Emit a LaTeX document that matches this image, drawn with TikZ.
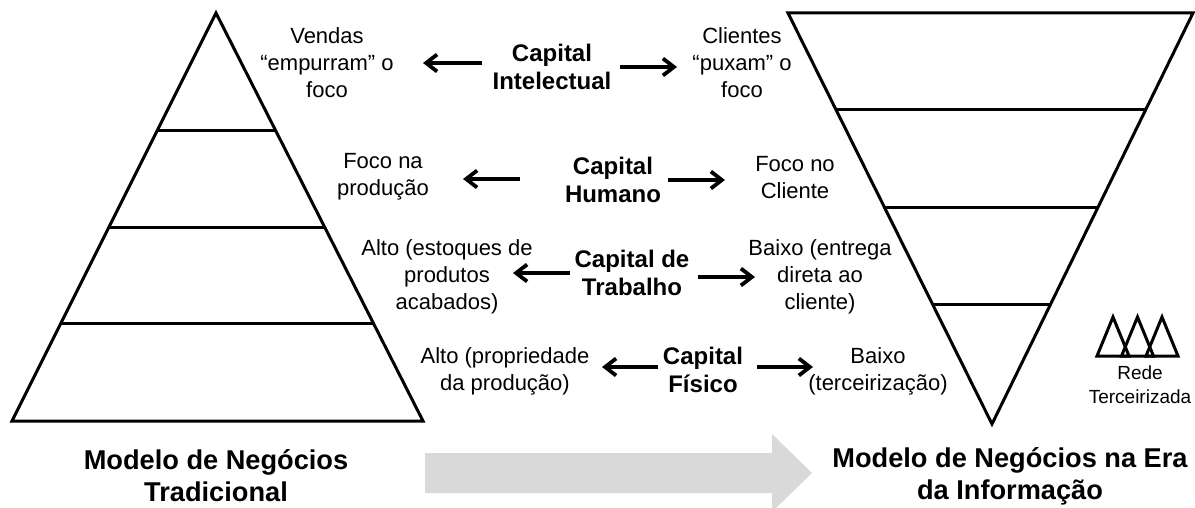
\documentclass[tikz,border=0pt]{standalone}
\usepackage{fontspec}
\setmainfont{Liberation Sans}
\usetikzlibrary{arrows.meta,calc,positioning}
\definecolor{arrowgray}{HTML}{D9D9D9}

\tikzset{
	txt/.style={align=center,inner sep=0pt,font=\fontsize{11}{13.5}\selectfont},
	capbox/.style={align=center,inner sep=0pt,font=\fontsize{12}{14}\selectfont\bfseries},
	ttl/.style={align=center,inner sep=0pt,font=\fontsize{13.6}{16}\selectfont\bfseries},
	small/.style={align=center,inner sep=0pt,font=\fontsize{9.5}{12}\selectfont},
	lvl/.style={line width=1.5pt},
	arr/.style={line width=1.9pt,-{Straight Barb[length=5.5pt,width=8.5pt]}},
}

\begin{document}
\begin{tikzpicture}[x=0.5pt,y=-0.5pt]
		\useasboundingbox (0,0) rectangle (1195,508);
		\clip (0,0) rectangle (1195,508);
		% grey arrow
		\fill[arrowgray] (425,453) -- (772,453) -- (772,434) -- (812,473) -- (772,512) -- (772,493) -- (425,493) -- cycle;
		% traditional pyramid
		\coordinate (lt) at (216,13);
		\coordinate (lbl) at (12,421);
		\coordinate (lbr) at (423,421);
		\draw[lvl] (lt) -- (lbl) -- (lbr) -- cycle;
		\foreach \f in {0.287,0.525,0.762}
			\draw[lvl] ($(lt)!\f!(lbl)$) -- ($(lt)!\f!(lbr)$);
		% inverted pyramid
		\coordinate (rtl) at (788,13);
		\coordinate (rtr) at (1193,13);
		\coordinate (rb) at (992,424);
		\draw[lvl] (rtl) -- (rtr) -- (rb) -- cycle;
		\foreach \f in {0.236,0.474,0.71}
			\draw[lvl] ($(rtl)!\f!(rb)$) -- ($(rtr)!\f!(rb)$);
		% network icon
		\foreach \i in {0,1,2}
			\draw[lvl] (1097+24.5*\i,356) -- (1113+24.5*\i,317) -- (1129+24.5*\i,356) -- cycle;
		\node[small] (rede) at (1140,385) {Rede\\Terceirizada};
		%
		\node[txt] (vendas) at (327,63) {Vendas\\“empurram” o\\foco};
		\node[capbox] (capI) at (552,67) {Capital\\Intelectual};
		\node[txt] (clientes) at (742,63) {Clientes\\“puxam” o\\foco};
		\node[txt] (focoP) at (383,177) {Foco na\\produção};
		\node[capbox] (capH) at (613,180) {Capital\\Humano};
		\node[txt] (focoC) at (795,178) {Foco no\\Cliente};
		\node[txt] (altoE) at (447,277) {Alto (estoques de\\produtos\\acabados)};
		\node[capbox] (capT) at (632,273) {Capital de\\Trabalho};
		\node[txt] (baixoE) at (820,277) {Baixo (entrega\\direta ao\\cliente)};
		\node[txt] (altoP) at (505,371) {Alto (propriedade\\da produção)};
		\node[capbox] (capF) at (703,370) {Capital\\Físico};
		\node[txt] (baixoT) at (878,371) {Baixo\\(terceirização)};
		%
		\node[ttl] (trad) at (216,476) {Modelo de Negócios\\Tradicional};
		\node[ttl] (info) at (1010,476) {Modelo de Negócios na Era\\da Informação};
		% arrow ends
		\coordinate (i1) at (482,63);  \coordinate (i2) at (423,63);
		\coordinate (i3) at (620,67);  \coordinate (i4) at (677,67);
		\coordinate (h1) at (520,179); \coordinate (h2) at (463,179);
		\coordinate (h3) at (668,180); \coordinate (h4) at (725,180);
		\coordinate (t1) at (570,273); \coordinate (t2) at (513,273);
		\coordinate (t3) at (698,277); \coordinate (t4) at (755,277);
		\coordinate (f1) at (658,367); \coordinate (f2) at (602,367);
		\coordinate (f3) at (757,367); \coordinate (f4) at (813,367);
		\draw[arr] (i1) -- (i2);
		\draw[arr] (i3) -- (i4);
		\draw[arr] (h1) -- (h2);
		\draw[arr] (h3) -- (h4);
		\draw[arr] (t1) -- (t2);
		\draw[arr] (t3) -- (t4);
		\draw[arr] (f1) -- (f2);
		\draw[arr] (f3) -- (f4);
	\end{tikzpicture}
\end{document}
